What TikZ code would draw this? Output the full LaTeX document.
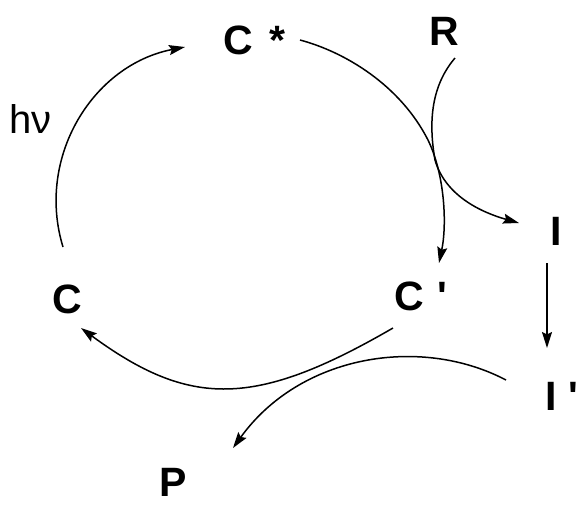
\documentclass[tikz,border=0pt]{standalone}
\usepackage{fontspec}
\setmainfont{Liberation Sans}
\newfontfamily\pfont{Liberation Sans}[Ligatures=TeXOff]
\usetikzlibrary{arrows.meta}
\begin{document}
\begin{tikzpicture}[x=1pt,y=-1pt,
  lbl/.style={font=\fontsize{41}{41}\selectfont\bfseries, inner sep=0pt, anchor=base west},
  thin lbl/.style={font=\fontsize{40}{40}\selectfont, inner sep=0pt, anchor=base west},
  conn/.style={line width=1.5pt, -{Stealth[length=16pt,width=10pt,inset=2.5pt]}}]
\useasboundingbox (0,0) rectangle (579,504);
% species
\node[lbl] (Cs) at (223,54) {C\hspace{17pt}*};
\node[lbl] (R) at (429,45) {R};
\node[thin lbl] (hv) at (9,133) {hν};
\node[lbl] (C) at (52,313) {C};
\node[lbl] (Cp) at (394,310) {C\hspace{14pt}{\pfont\bfseries '}};
\node[lbl] (I) at (550,245) {I};
\node[lbl] (Ip) at (545,410) {I\hspace{12pt}{\pfont\bfseries '}};
\node[lbl] (P) at (159,496) {P};
% connector ends
\coordinate (c1s) at (63,247);  \coordinate (c1e) at (185,47);
\coordinate (c2s) at (300,40);  \coordinate (c2e) at (439,263);
\coordinate (c3s) at (455,58);  \coordinate (c3e) at (519,223);
\coordinate (c4s) at (547,263); \coordinate (c4e) at (547,348);
\coordinate (c5s) at (393,328); \coordinate (c5e) at (81,328);
\coordinate (c6s) at (506,380); \coordinate (c6e) at (233,448);
% connectors
\draw[conn] (c1s) .. controls (35.6,157.3) and (92.9,64.9) .. (c1e);
\draw[conn] (c2s) .. controls (345,52) and (400,85) .. (428,140)
                 .. controls (445,175) and (447,225) .. (c2e);
\draw[conn] (c3s) .. controls (432,85) and (428,120) .. (435,160)
                 .. controls (445,195) and (480,212) .. (c3e);
\draw[conn] (c4s) -- (c4e);
\draw[conn] (c5s) .. controls (255,408) and (190,408) .. (c5e);
\draw[conn] (c6s) .. controls (420,335) and (300,355) .. (c6e);
\end{tikzpicture}
\end{document}
